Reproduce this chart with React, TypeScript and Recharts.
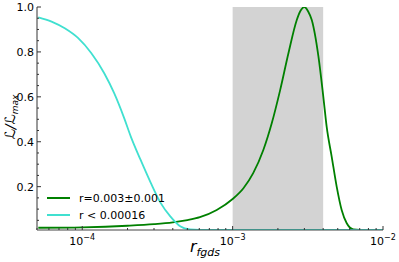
import React from 'react';
import { ComposedChart, Line, XAxis, YAxis, ReferenceArea, Legend } from 'recharts';

// ---- data ----
const greenR = [5.1e-5, 1e-4, 2e-4, 3e-4, 4e-4, 5e-4, 6.06e-4, 7.84e-4, 1e-3, 1.18e-3, 1.37e-3, 1.6e-3, 1.82e-3, 2.07e-3, 2.35e-3, 2.67e-3, 2.81e-3, 3.0e-3, 3.18e-3, 3.36e-3, 3.72e-3, 4.01e-3, 4.22e-3, 4.56e-3, 4.92e-3, 5.31e-3, 5.74e-3, 6.35e-3, 7e-3, 1e-2];
const greenL = [0.017, 0.019, 0.026, 0.033, 0.041, 0.051, 0.064, 0.096, 0.145, 0.193, 0.26, 0.363, 0.482, 0.63, 0.794, 0.942, 0.98, 1.0, 0.98, 0.942, 0.78, 0.6, 0.467, 0.333, 0.2, 0.096, 0.037, 0.01, 0.008, 0.008];
const cyanR = [5.1e-5, 6.25e-5, 7.65e-5, 9.4e-5, 1.15e-4, 1.4e-4, 1.63e-4, 1.9e-4, 2.1e-4, 2.44e-4, 2.85e-4, 3.31e-4, 3.85e-4, 4.48e-4, 5.2e-4, 6e-4, 1e-2];
const cyanL = [0.954, 0.935, 0.905, 0.861, 0.794, 0.705, 0.616, 0.505, 0.424, 0.32, 0.218, 0.129, 0.068, 0.024, 0.01, 0.008, 0.008];
const bandStart = 1e-3;
const bandEnd = 4e-3;
const xDomain: [number, number] = [5e-5, 1e-2];
const yDomain: [number, number] = [0.007, 1.0];
const xTicks = [5e-5, 6e-5, 7e-5, 8e-5, 9e-5, 1e-4, 2e-4, 3e-4, 4e-4, 5e-4, 6e-4, 7e-4, 8e-4, 9e-4, 1e-3, 2e-3, 3e-3, 4e-3, 5e-3, 6e-3, 7e-3, 8e-3, 9e-3, 1e-2];
const yTicks = [0.05, 0.1, 0.15, 0.2, 0.25, 0.3, 0.35, 0.4, 0.45, 0.5, 0.55, 0.6, 0.65, 0.7, 0.75, 0.8, 0.85, 0.9, 0.95, 1.0];
const yMajor = [0.2, 0.4, 0.6, 0.8, 1.0];
const greenLabel = 'r=0.003±0.001';
const cyanLabel = 'r < 0.00016';

const greenData = greenR.map((r, i) => ({ r, v: greenL[i] }));
const cyanData = cyanR.map((r, i) => ({ r, v: cyanL[i] }));

const W = 399;
const H = 262;
const TOP = 7;
const BOTTOM = 230;
const LEFT = 37;
const RIGHT = 383;
const FONT = 'DejaVu Sans, sans-serif';

const isPow10 = (v: number) => Math.abs(Math.log10(v) - Math.round(Math.log10(v))) < 1e-6;
const isMajorY = (v: number) => yMajor.some((m) => Math.abs(m - v) < 1e-6);

const XTickBottom = (props: any) => {
  const { x, payload } = props;
  const v = payload.value;
  const major = isPow10(v);
  const exp = Math.round(Math.log10(v));
  return (
    <g>
      <line x1={x} x2={x} y1={BOTTOM} y2={BOTTOM - (major ? 4 : 2)} stroke="#333" strokeWidth={1} />
      {major && (
        <text x={x} y={BOTTOM + 15} textAnchor="middle" fontFamily={FONT} fontSize={11} fill="#000">
          <tspan>10</tspan>
          <tspan dy={-5} fontSize={8}>{'\u2212' + String(Math.abs(exp))}</tspan>
        </text>
      )}
    </g>
  );
};

const XTickTop = (props: any) => {
  const { x, payload } = props;
  const major = isPow10(payload.value);
  return <line x1={x} x2={x} y1={TOP} y2={TOP + (major ? 4 : 2)} stroke="#333" strokeWidth={1} />;
};

const YTickLeft = (props: any) => {
  const { y, payload } = props;
  const v = payload.value;
  const major = isMajorY(v);
  return (
    <g>
      <line x1={LEFT} x2={LEFT + (major ? 4 : 2)} y1={y} y2={y} stroke="#333" strokeWidth={1} />
      {major && (
        <text x={LEFT - 3} y={y + 4} textAnchor="end" fontFamily={FONT} fontSize={11} fill="#000">
          {v.toFixed(1)}
        </text>
      )}
    </g>
  );
};

const YTickRight = (props: any) => {
  const { y, payload } = props;
  const major = isMajorY(payload.value);
  return <line x1={RIGHT} x2={RIGHT - (major ? 4 : 2)} y1={y} y2={y} stroke="#333" strokeWidth={1} />;
};

const LegendContent = () => (
  <svg width={140} height={36} style={{ display: 'block' }}>
    <line x1={7} x2={30} y1={10} y2={10} stroke="#008000" strokeWidth={2} />
    <text x={39} y={14} fontFamily={FONT} fontSize={11} fill="#000">{greenLabel}</text>
    <line x1={7} x2={30} y1={27} y2={27} stroke="#40e0d0" strokeWidth={2} />
    <text x={39} y={31} fontFamily={FONT} fontSize={11} fill="#000">{cyanLabel}</text>
  </svg>
);

export default function App() {
  return (
    <div style={{ position: 'absolute', left: 0, top: 0, width: W, height: H, background: '#fff' }}>
      <ComposedChart width={W} height={H} margin={{ top: TOP, right: W - RIGHT, bottom: 0, left: 0 }}>
        <XAxis
          xAxisId="b"
          dataKey="r"
          type="number"
          scale="log"
          domain={xDomain}
          allowDataOverflow
          ticks={xTicks}
          interval={0}
          height={H - BOTTOM}
          tickSize={0}
          tickMargin={0}
          tick={<XTickBottom />}
          axisLine={{ stroke: '#444', strokeWidth: 1.2 }}
          tickLine={false}
        />
        <XAxis
          xAxisId="t"
          orientation="top"
          dataKey="r"
          type="number"
          scale="log"
          domain={xDomain}
          allowDataOverflow
          ticks={xTicks}
          interval={0}
          height={0}
          tickSize={0}
          tick={<XTickTop />}
          axisLine={{ stroke: '#666', strokeWidth: 1.2 }}
          tickLine={false}
        />
        <YAxis
          yAxisId="l"
          type="number"
          domain={yDomain}
          allowDataOverflow
          ticks={yTicks}
          interval={0}
          width={LEFT}
          tickSize={0}
          tick={<YTickLeft />}
          axisLine={{ stroke: '#999', strokeWidth: 2 }}
          tickLine={false}
        />
        <YAxis
          yAxisId="r"
          orientation="right"
          type="number"
          domain={yDomain}
          allowDataOverflow
          ticks={yTicks}
          interval={0}
          width={0}
          tickSize={0}
          tick={<YTickRight />}
          axisLine={{ stroke: '#333', strokeWidth: 1.2 }}
          tickLine={false}
        />
        <ReferenceArea
          xAxisId="b"
          yAxisId="l"
          x1={bandStart}
          x2={bandEnd}
          y1={yDomain[0]}
          y2={yDomain[1]}
          fill="#d3d3d3"
          fillOpacity={1}
          stroke="none"
          ifOverflow="hidden"
        />
        <Line
          xAxisId="b"
          yAxisId="l"
          data={greenData}
          dataKey="v"
          type="monotone"
          stroke="#008000"
          strokeWidth={1.8}
          dot={false}
          isAnimationActive={false}
        />
        <Line
          xAxisId="b"
          yAxisId="l"
          data={cyanData}
          dataKey="v"
          type="monotone"
          stroke="#40e0d0"
          strokeWidth={1.8}
          dot={false}
          isAnimationActive={false}
        />
        <Legend
          layout="vertical"
          align="center"
          verticalAlign="middle"
          content={<LegendContent />}
          wrapperStyle={{ position: 'absolute', left: 40, top: 188, width: 140, height: 36 }}
        />
        <text x={15} y={117} transform="rotate(-90 15 117)" textAnchor="middle" fontFamily={FONT} fontSize={14} fontStyle="italic" fill="#000">
          <tspan>ℒ/ℒ</tspan>
          <tspan fontSize={9} dy={3}>max</tspan>
        </text>
        <text x={205} y={252} textAnchor="middle" fontFamily={FONT} fontStyle="italic" fill="#000">
          <tspan fontSize={16}>r</tspan>
          <tspan fontSize={11} dy={4}>fgds</tspan>
        </text>
      </ComposedChart>
    </div>
  );
}
